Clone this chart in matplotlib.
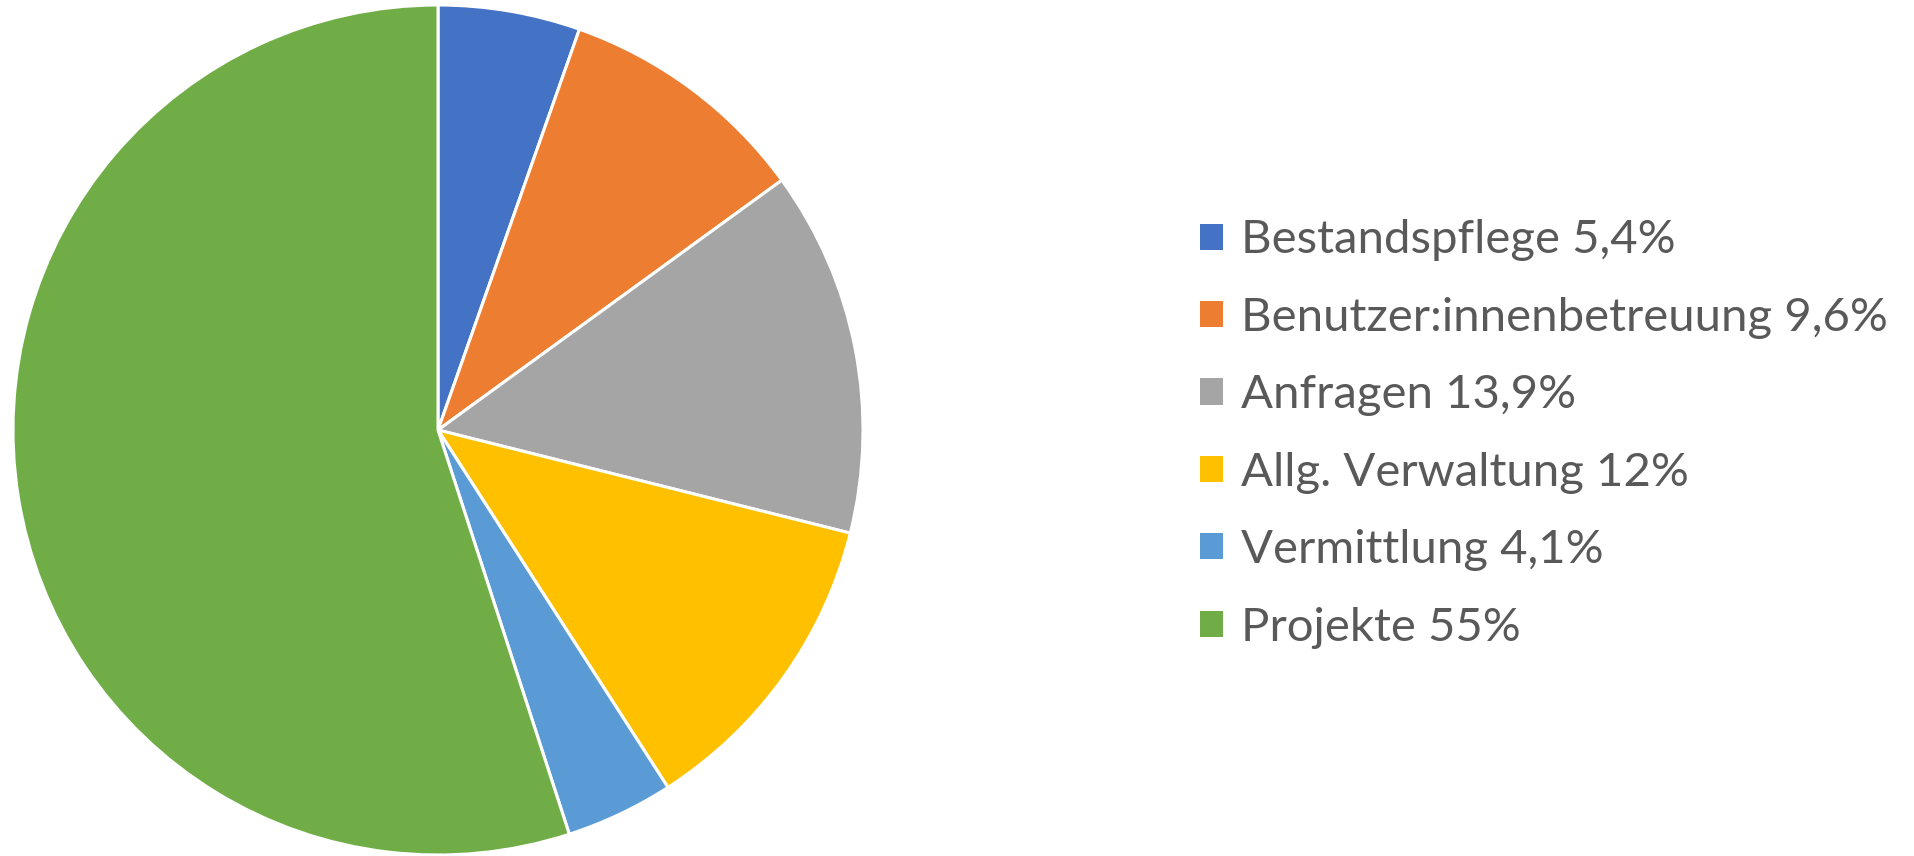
#!/usr/bin/env python3

"""
Pie chart: share of work areas (German labels, percentages with comma).
"""

import matplotlib
matplotlib.use('Agg')
from matplotlib import pyplot as plt
from matplotlib.patches import Patch

# Data
categories = ['Bestandspflege', 'Benutzer:innenbetreuung', 'Anfragen',
              'Allg. Verwaltung', 'Vermittlung', 'Projekte']
shares = [5.4, 9.6, 13.9, 12, 4.1, 55]
colors = ['#4472C4', '#ED7D31', '#A5A5A5', '#FFC000', '#5B9BD5', '#70AD47']

plt.rcParams['font.family'] = ['Lato', 'DejaVu Sans']

W, H = 1914, 856
fig = plt.figure(figsize=(W / 100, H / 100), dpi=100)

#### PIE ####
cx, cy, r = 438, 430, 425
ax = fig.add_axes([(cx - r) / W, (H - cy - r) / H, 2 * r / W, 2 * r / H])
ax.pie(shares, colors=colors, startangle=90, counterclock=False,
       wedgeprops={'edgecolor': 'white', 'linewidth': 2.2})
ax.set_xlim(-1, 1)
ax.set_ylim(-1, 1)
ax.set_aspect('equal')
ax.axis('off')

#### LEGEND ####
labels = ['{} {}%'.format(c, '{:g}'.format(v).replace('.', ','))
          for c, v in zip(categories, shares)]
handles = [Patch(facecolor=c, edgecolor='none') for c in colors]
fig.legend(handles, labels, loc='center left',
           bbox_to_anchor=(1200 / W, 1 - 434 / H),
           frameon=False, fontsize=34, labelcolor='#595959',
           handlelength=0.48, handleheight=0.48, handletextpad=0.38,
           labelspacing=0.75, borderpad=0, borderaxespad=0)

fig.savefig('out.png', dpi=100)
